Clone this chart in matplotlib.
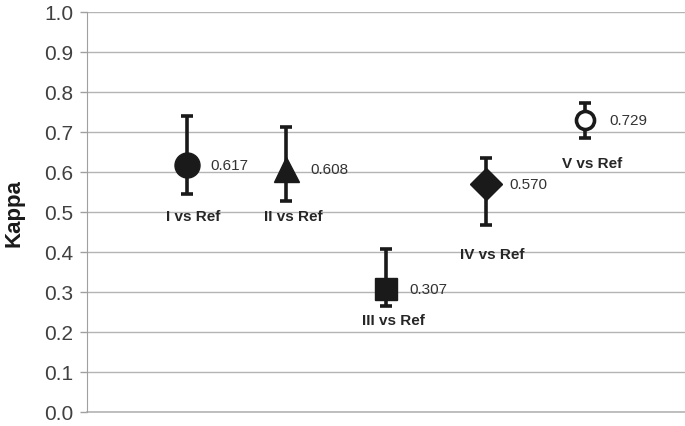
import matplotlib
matplotlib.use("Agg")
import matplotlib.pyplot as plt

# -- data ---------------------------------------------------------------
labels = ["I vs Ref", "II vs Ref", "III vs Ref", "IV vs Ref", "V vs Ref"]
kappa = [0.617, 0.608, 0.307, 0.570, 0.729]
ci_low = [0.545, 0.527, 0.265, 0.467, 0.685]
ci_high = [0.740, 0.712, 0.407, 0.635, 0.772]
yticks = [0.0, 0.1, 0.2, 0.3, 0.4, 0.5, 0.6, 0.7, 0.8, 0.9, 1.0]

# -- layout / style -----------------------------------------------------
xpos = [1, 2, 3, 4, 5]
label_y = [0.49, 0.49, 0.23, 0.395, 0.6225]
markers = ["o", "^", "s", "D", "o"]
msizes = [18, 18, 16, 16, 13]
faces = ["#1a1a1a", "#1a1a1a", "#1a1a1a", "#1a1a1a", "white"]
INK = "#1a1a1a"
GRID = "#b4b4b4"

plt.rcParams["font.family"] = ["Liberation Sans", "DejaVu Sans"]

fig = plt.figure(figsize=(6.85, 4.27), dpi=100)
ax = fig.add_axes([0.127, 0.033, 0.873, 0.937])

for i in range(len(kappa)):
    err = [[kappa[i] - ci_low[i]], [ci_high[i] - kappa[i]]]
    ax.errorbar(xpos[i], kappa[i], yerr=err, fmt="none", ecolor=INK,
                elinewidth=2.6, capsize=4, capthick=2.6, zorder=3)
    ax.plot(xpos[i], kappa[i], marker=markers[i], markersize=msizes[i],
            markerfacecolor=faces[i], markeredgecolor=INK,
            markeredgewidth=2.6 if faces[i] == "white" else 1, zorder=4)
    ax.annotate(f"{kappa[i]:.3f}", (xpos[i], kappa[i]), xytext=(17, 0),
                textcoords="offset points", va="center", ha="left",
                fontsize=11, color="#333333")
    ax.text(xpos[i] + 0.07, label_y[i], labels[i], ha="center", va="center",
            fontsize=11, fontweight="bold", color="#262626")

ax.set_xlim(0, 6)
ax.set_ylim(0, 1.0)
ax.set_yticks(yticks)
ax.set_yticklabels([f"{v:.1f}" for v in yticks])
ax.set_xticks([])
ax.yaxis.grid(True, color=GRID, linewidth=1)
ax.axhline(0, color=GRID, linewidth=1.2, clip_on=False, zorder=1)
ax.set_axisbelow(True)
ax.tick_params(axis="y", labelsize=15, colors="#a0a0a0", labelcolor="#404040",
               length=5, width=1, pad=5)
for s in ["top", "right", "bottom"]:
    ax.spines[s].set_visible(False)
ax.spines["left"].set_color("#a0a0a0")
ax.set_ylabel("Kappa", fontsize=16, fontweight="bold", color="#1a1a1a", labelpad=14)

fig.savefig("out.png", dpi=100)
